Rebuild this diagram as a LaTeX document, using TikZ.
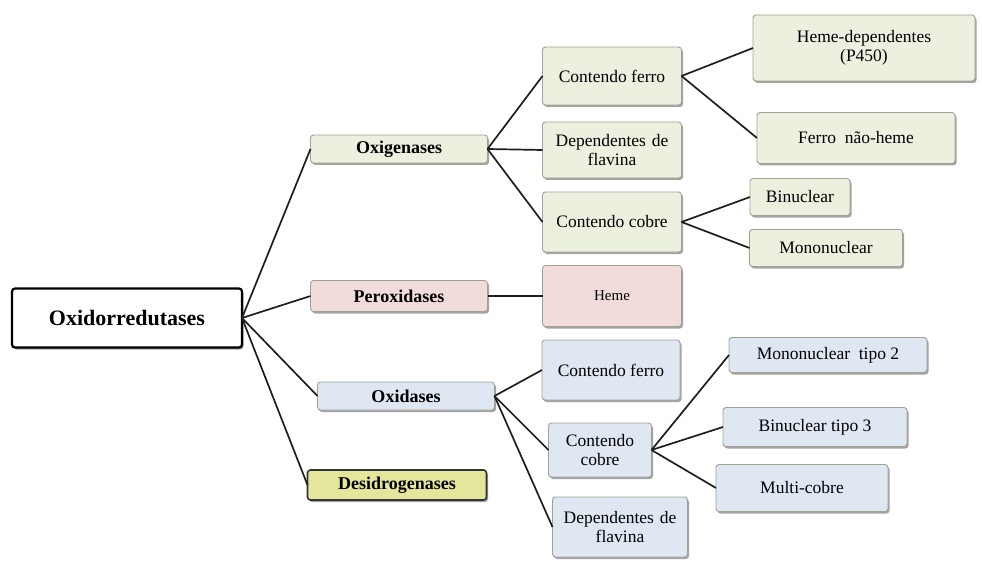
\documentclass[tikz,border=0pt]{standalone}
\usepackage{fontspec}
\setmainfont{Liberation Serif}
\usepackage{tikz}
\usetikzlibrary{shadows}
\definecolor{verdeclaro}{HTML}{EBF1DE}
\definecolor{rosaclaro}{HTML}{F2DCDB}
\definecolor{azulclaro}{HTML}{DFE7F3}
\definecolor{amarelo}{HTML}{E4E69C}
\definecolor{bordacinza}{HTML}{9EA394}
\definecolor{linha}{HTML}{1E1E1E}
\tikzset{
         caixa/.style=
          {
           draw=bordacinza,
           line width=0.9pt,
           rounded corners=3pt,
           align=center,
           inner sep=2pt,
           outer sep=0pt,
           font=\fontsize{17.5}{19.5}\selectfont,
           drop shadow={shadow xshift=1.5pt,shadow yshift=-2pt,fill=black!45,opacity=0.8}
          },
         verde/.style={caixa,fill=verdeclaro},
         rosa/.style={caixa,fill=rosaclaro},
         azul/.style={caixa,fill=azulclaro},
         nivelum/.style={font=\bfseries\fontsize{18}{20}\selectfont},
         ramo/.style={draw=linha,line width=1.7pt}
        }

\begin{document}
\begin{tikzpicture}[x=1pt,y=-1pt]
      \useasboundingbox (0,0) rectangle (982,572); % page size
      \node[caixa,draw=black,line width=2.2pt,fill=white,minimum width=230,minimum height=59,font=\bfseries\fontsize{22}{24}\selectfont] (raiz) at (127,318) {Oxidorredutases}; % root
      \node[verde,nivelum,minimum width=177,minimum height=28] (oxig) at (399,149) {Oxigenases}; % level 1
      \node[rosa,nivelum,minimum width=177,minimum height=31] (perox) at (399,296) {Peroxidases}; % level 1
      \node[azul,nivelum,minimum width=177,minimum height=28] (oxid) at (406,396) {Oxidases}; % level 1
      \node[caixa,nivelum,fill=amarelo,draw=black!80,line width=1.6pt,minimum width=179,minimum height=30] (desid) at (397,485) {Desidrogenases}; % level 1
      \node[verde,minimum width=139,minimum height=58] (oxigFe) at (612,76) {Contendo ferro}; % oxigenases
      \node[verde,minimum width=139,minimum height=56,text width=130] (oxigFl) at (612,150) {Dependentes de\\flavina}; % oxigenases
      \node[verde,minimum width=139,minimum height=60] (oxigCu) at (612,222) {Contendo cobre}; % oxigenases
      \node[verde,minimum width=222,minimum height=66,text width=210] (hemeP) at (864,48) {Heme-dependentes\\(P450)}; % ferro
      \node[verde,minimum width=198,minimum height=51] (ferroNH) at (856,138) {Ferro\ \ não-heme}; % ferro
      \node[verde,minimum width=100,minimum height=37] (binuc) at (800,197) {Binuclear}; % cobre
      \node[verde,minimum width=153,minimum height=37] (mononuc) at (826,248) {Mononuclear}; % cobre
      \node[rosa,minimum width=139,minimum height=61,font=\fontsize{15}{17}\selectfont] (perHeme) at (612,296) {Heme}; % peroxidases
      \node[azul,minimum width=138,minimum height=60] (oxidFe) at (611,370) {Contendo ferro}; % oxidases
      \node[azul,minimum width=103,minimum height=54,text width=96] (oxidCu) at (600,450) {Contendo\\cobre}; % oxidases
      \node[azul,minimum width=135,minimum height=60,text width=130] (oxidFl) at (620,527) {Dependentes de\\flavina}; % oxidases
      \node[azul,minimum width=198,minimum height=35] (mono2) at (828,355) {Mononuclear\ \ tipo 2}; % cobre
      \node[azul,minimum width=184,minimum height=39] (binuc3) at (815,427) {Binuclear tipo 3}; % cobre
      \node[azul,minimum width=172,minimum height=47] (multiCu) at (802,488) {Multi-cobre}; % cobre
      \foreach \filho in {oxig,perox,oxid,desid}
        \draw[ramo] (raiz.east) -- (\filho.west); % root branches
      \foreach \filho in {oxigFe,oxigFl,oxigCu}
        \draw[ramo] (oxig.east) -- (\filho.west); % oxigenases branches
      \draw[ramo] (perox.east) -- (perHeme.west); % peroxidases branch
      \foreach \filho in {oxidFe,oxidCu,oxidFl}
        \draw[ramo] (oxid.east) -- (\filho.west); % oxidases branches
      \foreach \filho in {hemeP,ferroNH}
        \draw[ramo] (oxigFe.east) -- (\filho.west); % ferro branches
      \foreach \filho in {binuc,mononuc}
        \draw[ramo] (oxigCu.east) -- (\filho.west); % cobre branches
      \foreach \filho in {mono2,binuc3,multiCu}
        \draw[ramo] (oxidCu.east) -- (\filho.west); % cobre branches
   \end{tikzpicture}
\end{document}
